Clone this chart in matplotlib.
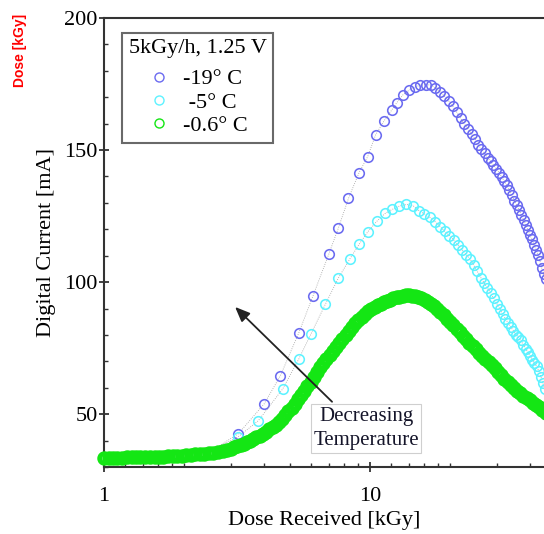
import matplotlib
matplotlib.use("Agg")
import matplotlib.pyplot as plt
from matplotlib.lines import Line2D
from matplotlib.ticker import NullFormatter

plt.rcParams["font.family"] = "Liberation Serif"
plt.rcParams["font.size"] = 16

# -19 C run
dose_m19 = [1.0, 1.7, 2.5, 3.2, 4.0, 4.6, 5.4, 6.1, 7.0, 7.6,
            8.3, 9.1, 9.8, 10.5, 11.3, 12.1, 12.6, 13.3, 14.0, 14.7,
            15.4, 16.2, 16.9, 17.6, 18.3, 19.0, 19.8, 20.5, 21.2, 21.9,
            22.6, 23.4, 24.1, 24.8, 25.5, 26.2, 27.0, 27.7, 28.4, 29.1,
            29.8, 30.6, 31.3, 32.0, 32.7, 33.4, 34.2, 34.9, 35.6, 36.3,
            37.0, 37.8, 38.5, 39.2, 39.9, 40.6, 41.4, 42.1, 42.8, 43.5,
            44.2, 45.0, 45.7]
curr_m19 = [33.6, 34.0, 35.8, 42.6, 53.9, 64.5, 80.8, 94.7, 110.6, 120.4,
            131.7, 141.5, 147.5, 155.8, 161.1, 165.3, 167.9, 170.9, 172.6, 173.8,
            174.5, 174.8, 174.6, 173.6, 172.1, 170.5, 168.5, 166.5, 164.3, 162.0,
            159.9, 157.9, 156.2, 154.2, 152.1, 150.4, 148.7, 147.1, 145.8, 144.3,
            143.0, 141.4, 139.8, 138.2, 136.6, 134.8, 132.9, 130.9, 129.1, 127.4,
            125.6, 123.6, 121.8, 119.8, 117.9, 116.2, 114.1, 112.3, 110.4, 108.1,
            105.4, 103.0, 101.0]

# -5 C run
dose_m5 = [1.7, 2.4, 3.2, 3.8, 4.7, 5.4, 6.0, 6.8, 7.6, 8.4,
           9.1, 9.8, 10.6, 11.4, 12.1, 12.9, 13.7, 14.5, 15.3, 16.0,
           16.8, 17.6, 18.4, 19.1, 19.9, 20.7, 21.4, 22.2, 23.0, 23.8,
           24.5, 25.3, 26.1, 26.9, 27.6, 28.4, 29.2, 30.0, 30.7, 31.5,
           32.3, 33.0, 33.8, 34.6, 35.4, 36.1, 36.9, 37.7, 38.5, 39.2,
           40.0, 40.8, 41.5, 42.3, 43.1, 43.9, 44.6, 45.4]
curr_m5 = [33.8, 35.0, 41.5, 47.5, 59.6, 70.9, 80.4, 91.7, 101.5, 108.8,
           114.3, 119.0, 123.0, 126.0, 127.5, 128.8, 129.4, 129.0, 127.0, 125.8,
           124.5, 122.8, 120.9, 119.2, 117.6, 115.8, 114.1, 112.3, 110.4, 108.7,
           106.5, 104.1, 101.7, 99.6, 97.8, 96.0, 93.8, 91.8, 90.0, 88.0,
           86.2, 84.6, 83.0, 81.6, 80.1, 79.2, 77.9, 76.3, 74.8, 73.4,
           72.1, 70.6, 69.3, 68.1, 66.4, 64.2, 61.8, 59.5]

# -0.6 C run (sampled much more often)
dose_m06 = [1.00, 1.04, 1.08, 1.12, 1.17, 1.22, 1.27, 1.32, 1.37, 1.43,
            1.49, 1.55, 1.61, 1.67, 1.74, 1.81, 1.88, 1.96, 2.04, 2.12,
            2.20, 2.29, 2.38, 2.48, 2.58, 2.68, 2.79, 2.90, 3.01,
            3.09, 3.17, 3.26, 3.35, 3.45, 3.54, 3.64, 3.74, 3.85, 3.96,
            4.07, 4.18, 4.30, 4.42, 4.54, 4.67, 4.80, 4.93, 5.07, 5.21,
            5.36, 5.51, 5.66, 5.82, 5.98, 6.15, 6.32, 6.50, 6.68, 6.86,
            7.05, 7.25, 7.45, 7.66, 7.88, 8.10, 8.32, 8.56, 8.80, 9.04,
            9.30, 9.56, 9.82, 10.1, 10.4, 10.7, 11.0, 11.3, 11.6, 11.9,
            12.2, 12.6, 12.9, 13.3, 13.6, 14.0, 14.4, 14.8, 15.2, 15.6,
            16.1, 16.5, 17.0, 17.4, 17.9, 18.4, 18.9, 19.5, 20.0, 20.6,
            21.2, 21.8, 22.4, 23.0, 23.6, 24.3, 25.0, 25.7, 26.4, 27.1,
            27.9, 28.7, 29.5, 30.3, 31.1, 32.0, 32.9, 33.8, 34.7, 35.7,
            36.7, 37.7, 38.8, 39.8, 40.9, 42.1, 43.3, 44.5, 45.7]
curr_m06 = [33.4, 33.4, 33.5, 33.5, 33.5, 33.6, 33.6, 33.6, 33.7, 33.7,
            33.8, 33.8, 33.9, 33.9, 34.0, 34.1, 34.2, 34.3, 34.4, 34.6,
            34.8, 35.0, 35.1, 35.2, 35.4, 35.6, 35.9, 36.4, 37.0,
            37.4, 37.8, 38.3, 38.8, 39.4, 40.0, 40.6, 41.2, 41.9, 42.6,
            43.4, 44.2, 45.0, 45.9, 47.0, 48.2, 49.6, 51.1, 52.5, 54.0,
            55.6, 57.3, 58.9, 60.6, 62.3, 64.2, 66.0, 67.8, 69.5, 71.0,
            72.4, 73.9, 75.4, 76.9, 78.5, 80.1, 81.6, 83.0, 84.4, 85.6,
            86.8, 87.9, 89.0, 89.9, 90.7, 91.3, 91.8, 92.4, 92.9, 93.4,
            93.8, 94.2, 94.5, 94.8, 95.0, 95.0, 94.9, 94.6, 94.3, 93.8,
            93.2, 92.6, 91.6, 90.8, 89.7, 88.5, 87.4, 86.1, 85.0, 83.7,
            82.3, 81.0, 79.6, 78.3, 77.1, 75.8, 74.5, 73.3, 72.1, 70.9,
            69.7, 68.5, 67.3, 66.0, 64.8, 63.5, 62.2, 61.0, 60.0, 58.9,
            57.9, 56.9, 56.0, 55.2, 54.4, 53.5, 52.6, 51.5, 50.4]

labels = ["-19\u00b0 C", " -5\u00b0 C", "-0.6\u00b0 C"]
legend_title = "5kGy/h, 1.25 V"
colors = ["#6b6bf0", "#5ef2ff", "#14e614"]

x_major = [1, 10]
x_major_labels = ["1", "10"]
x_minor = [1.2, 1.4, 1.6, 1.8, 2, 3, 4, 5, 6, 7, 8, 9,
           12, 14, 16, 18, 20, 30, 40]
y_major = [50, 100, 150, 200]
y_minor = [30, 40, 60, 70, 80, 90, 110, 120, 130, 140, 160, 170, 180, 190]

fig = plt.figure(figsize=(5.44, 5.34), dpi=100)
ax = fig.add_axes([104 / 544, 67 / 534, 440 / 544, 449 / 534])

line_kw = dict(linestyle=":", color="#a0a0a0", linewidth=0.6, marker="o",
               markerfacecolor="none", clip_on=False)
ax.plot(dose_m19, curr_m19, markeredgecolor=colors[0], markersize=6.9,
        markeredgewidth=1.15, zorder=2, **line_kw)
ax.plot(dose_m5, curr_m5, markeredgecolor=colors[1], markersize=6.9,
        markeredgewidth=1.15, zorder=3, **line_kw)
# dense run: thick rings so the markers merge into a band
ax.plot(dose_m06, curr_m06, markeredgecolor=colors[2], markersize=7.0,
        markeredgewidth=3.4, zorder=4, **line_kw)

ax.set_xscale("log")
ax.set_xlim(1, 10 ** (440 / 266))
ax.set_ylim(30, 200)

ax.set_xticks(x_major)
ax.set_xticklabels(x_major_labels)
ax.set_xticks(x_minor, minor=True)
ax.xaxis.set_minor_formatter(NullFormatter())
ax.set_yticks(y_major)
ax.set_yticks(y_minor, minor=True)

ax.tick_params(which="major", direction="inout", length=7, width=1.3,
               color="#333333", labelsize=16)
ax.tick_params(axis="y", which="major", pad=1)
ax.tick_params(axis="x", which="major", pad=11)
ax.tick_params(which="minor", direction="in", length=3, width=1.0,
               color="#333333")

for side in ["left", "bottom", "top"]:
    ax.spines[side].set_linewidth(1.5)
    ax.spines[side].set_color("#333333")
ax.spines["right"].set_visible(False)

ax.set_xlabel("Dose Received [kGy]", fontsize=16)
ax.set_ylabel("Digital Current [mA]", fontsize=16)
ax.xaxis.set_label_coords(0.5, -0.097)
ax.yaxis.set_label_coords(-0.11, 0.5)

handles = [Line2D([], [], linestyle="none", marker="o", markerfacecolor="none",
                  markeredgecolor=c, markersize=6.5, markeredgewidth=1.0)
           for c in colors]
leg = ax.legend(handles, labels, title=legend_title, loc="upper left",
                bbox_to_anchor=(0.041, 0.967), borderaxespad=0,
                frameon=True, fancybox=False, fontsize=16, title_fontsize=16,
                handlelength=1.0, handletextpad=0.6, labelspacing=0.12,
                borderpad=0.3)
leg._legend_box.sep = 7.5  # extra room under the title
leg.get_frame().set_edgecolor("#444444")
leg.get_frame().set_linewidth(1.5)

ax.annotate("", xy=(3.11, 90.6), xytext=(7.20, 54.7),
            arrowprops=dict(arrowstyle="-|>,head_length=0.6,head_width=0.25",
                            color="#222222", lw=1.3, mutation_scale=15,
                            shrinkA=0, shrinkB=0),
            zorder=6)
ax.text(9.66, 44.6, "Decreasing\nTemperature", ha="center", va="center",
        multialignment="center", fontsize=15, color="#15152a", zorder=7,
        linespacing=1.4,
        bbox=dict(boxstyle="square,pad=0.12", facecolor="white",
                  edgecolor="#cfcfcf", linewidth=0.8))

fig.text(20 / 544, 1 - 50 / 534, "Dose [kGy]", rotation=90, color="red",
         fontsize=10, fontweight="bold", family="Liberation Sans",
         ha="center", va="center")

fig.savefig("out.png", dpi=100)
